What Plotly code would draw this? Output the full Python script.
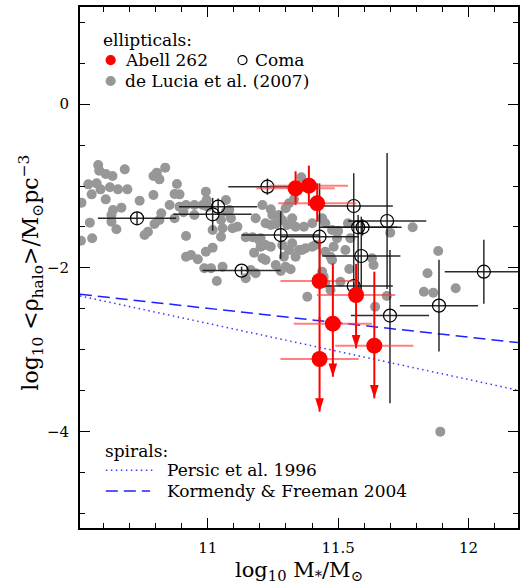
import plotly.graph_objects as go

# ---------------- data ----------------
delucia_logm = [10.580,10.584,10.609,10.635,10.682,10.792,10.805,10.815,10.837,11.359,
10.542,10.574,10.589,10.625,10.656,10.692,10.882,10.993,10.873,10.892,
10.792,10.555,10.516,10.609,10.739,10.669,10.637,10.854,10.892,10.917,
10.949,10.907,10.949,10.996,11.000,11.070,11.083,11.210,11.242,11.273,
11.299,11.312,11.331,10.822,10.631,10.548,10.631,10.815,10.796,10.771,
10.758,10.650,10.557,10.514,10.917,10.873,11.051,11.057,11.089,11.095,
11.114,11.146,11.172,11.184,11.203,11.222,11.242,11.261,11.286,11.305,
11.324,11.337,11.369,11.401,11.451,11.477,11.500,11.538,11.700,11.786,
11.019,11.203,11.222,11.242,11.286,11.324,11.350,11.375,11.401,11.413,
10.917,10.936,10.962,10.993,11.019,11.178,11.210,11.222,11.261,11.292,
11.451,11.483,11.528,11.477,11.543,11.630,11.636,10.987,11.013,11.057,
11.184,11.280,11.318,11.439,11.035,11.146,11.884,11.843,11.382,11.471,
11.445,11.509,11.642,11.687,11.829,11.865,11.951,11.892,11.496,11.547,
11.439,11.362,11.471,11.451,11.248,11.051,11.070,10.981,11.197,11.312,
11.337,11.299,11.165]
delucia_logrho = [-0.744,-0.813,-0.854,-0.878,-0.797,-0.878,-0.837,-0.919,-0.776,-0.894,
-0.980,-0.968,-1.041,-1.016,-1.041,-1.041,-0.976,-1.069,-1.098,-1.102,
-1.110,-1.102,-1.203,-1.163,-1.179,-1.264,-1.293,-1.232,-1.252,-1.232,
-1.232,-1.321,-1.354,-1.171,-1.252,-1.171,-1.293,-1.232,-1.285,-1.354,
-1.272,-1.211,-1.163,-1.333,-1.354,-1.447,-1.435,-1.415,-1.463,-1.557,
-1.598,-1.528,-1.638,-1.667,-1.610,-1.394,-1.415,-1.516,-1.394,-1.516,
-1.496,-1.626,-1.626,-1.394,-1.638,-1.455,-1.476,-1.463,-1.415,-1.476,
-1.394,-1.496,-1.496,-1.455,-1.455,-1.537,-1.549,-1.455,-1.569,-1.504,
-1.537,-1.740,-1.720,-1.740,-1.720,-1.699,-1.781,-1.760,-1.740,-1.720,
-1.862,-1.841,-1.894,-1.801,-1.752,-1.813,-1.882,-1.902,-1.963,-1.862,
-1.801,-1.740,-1.781,-1.902,-2.012,-1.882,-1.963,-2.004,-2.004,-1.984,
-2.065,-2.037,-2.016,-2.045,-2.159,-2.126,-1.793,-2.065,-2.350,-2.268,
-2.106,-2.167,-2.472,-2.341,-2.289,-2.301,-2.248,-3.996,-1.638,-1.638,
-1.394,-1.781,-1.862,-2.187,-1.354,-1.618,-1.313,-1.232,-1.659,-1.781,
-1.862,-1.984,-2.024]

coma_logm = [10.729, 11.040, 11.019, 11.229, 11.280, 11.130, 11.429, 11.560,
             11.577, 11.594, 11.688, 11.699, 11.589, 11.560, 11.887, 12.059]
coma_logrho = [-1.394, -1.252, -1.345, -1.008, -1.598, -2.032, -1.618, -1.244,
               -1.504, -1.504, -1.427, -2.580, -1.854, -2.220, -2.459, -2.045]
coma_err_up = [0.08, 0.10, 0.20, 0.10, 0.29, 0.05, 0.65, 0.40,
               0.15, 0.10, 0.83, 0.80, 0.48, 0.05, 0.56, 0.39]
coma_err_dn = [0.08, 0.10, 0.20, 0.10, 0.29, 0.05, 0.65, 0.98,
               0.74, 0.10, 0.83, 1.07, 0.41, 0.05, 0.56, 0.39]
coma_xerr = [0.15] * 16

abell_logm = [11.337, 11.388, 11.420, 11.429, 11.569, 11.429, 11.480, 11.639]
abell_logrho = [-1.028, -0.996, -1.211, -2.159, -2.329, -3.110, -2.679, -2.947]
abell_hi = [-0.82, -0.752, -0.967, -1.659, -1.95, -2.60, -1.943, -2.045]
abell_lo = [-1.232, -1.24, -1.435, -2.66, -2.98, -3.752, -3.326, -3.59]
abell_upper_limit = [False, False, False, False, True, True, True, True]
abell_xerr = [0.15] * 8

persic_logm = [10.51, 12.19]
persic_logrho = [-2.34, -3.49]
kf_logm = [10.51, 12.19]
kf_logrho = [-2.32, -2.91]

# ---------------- figure ----------------
FONT = "DejaVu Serif"
fig = go.Figure()

fig.add_trace(go.Scatter(
    x=delucia_logm, y=delucia_logrho, mode="markers",
    marker=dict(size=10, color="#979797", line=dict(width=0)),
    hoverinfo="skip"))

fig.add_trace(go.Scatter(
    x=persic_logm, y=persic_logrho, mode="lines",
    line=dict(color="#3a3aff", width=1.5, dash="1.5px,3.5px")))
fig.add_trace(go.Scatter(
    x=kf_logm, y=kf_logrho, mode="lines",
    line=dict(color="#2020ff", width=1.5, dash="12px,6px")))

fig.add_trace(go.Scatter(
    x=coma_logm, y=coma_logrho, mode="markers",
    marker=dict(symbol="circle-open", size=13, color="black", line=dict(width=1.2)),
    error_x=dict(type="data", array=coma_xerr, color="rgba(20,20,20,0.9)", thickness=1.5, width=0),
    error_y=dict(type="data", array=coma_err_up, arrayminus=coma_err_dn,
                 color="rgba(20,20,20,0.9)", thickness=1.5, width=0)))

err_up = [h - y for h, y in zip(abell_hi, abell_logrho)]
err_dn = [y - l for y, l in zip(abell_logrho, abell_lo)]
fig.add_trace(go.Scatter(
    x=abell_logm, y=abell_logrho, mode="markers",
    marker=dict(size=16, color="#ff0000", line=dict(width=0)),
    error_x=dict(type="data", array=abell_xerr, color="rgba(255,60,60,0.65)", thickness=2, width=0),
    error_y=dict(type="data", array=err_up, arrayminus=err_dn, color="#ff0000",
                 thickness=2, width=0)))

ul_x = [x for x, f in zip(abell_logm, abell_upper_limit) if f]
ul_y = [y for y, f in zip(abell_lo, abell_upper_limit) if f]
fig.add_trace(go.Scatter(
    x=ul_x, y=ul_y, mode="markers",
    marker=dict(symbol="arrow", angle=180, size=14, color="#ff0000", line=dict(width=0))))

# ---------------- legend (drawn inside plot) ----------------
def ptxt(xp, yp, text, size=17):
    fig.add_annotation(x=xp, y=yp, xref="paper", yref="paper", text=text,
                       showarrow=False, xanchor="left", yanchor="middle",
                       font=dict(family=FONT, size=size, color="black"))

def pdot(xp, yp, fill, line_color, d=9):
    r = d / 2
    fig.add_shape(type="circle", xref="paper", yref="paper",
                  xsizemode="pixel", ysizemode="pixel", xanchor=xp, yanchor=yp,
                  x0=-r, x1=r, y0=-r, y1=r, fillcolor=fill,
                  line=dict(color=line_color, width=1.2))

ptxt(0.048, 0.937, "ellipticals:")
pdot(0.070, 0.898, "#ff0000", "#ff0000")
ptxt(0.098, 0.898, "Abell 262")
pdot(0.371, 0.898, "rgba(0,0,0,0)", "black")
ptxt(0.396, 0.898, "Coma")
pdot(0.070, 0.858, "#979797", "#979797")
ptxt(0.098, 0.858, "de Lucia et al. (2007)")

ptxt(0.052, 0.148, "spirals:")
fig.add_shape(type="line", xref="paper", yref="paper", x0=0.059, x1=0.170, y0=0.111, y1=0.111,
              line=dict(color="#3a3aff", width=1.5, dash="1.5px,3.5px"))
ptxt(0.195, 0.111, "Persic et al. 1996")
fig.add_shape(type="line", xref="paper", yref="paper", x0=0.059, x1=0.160, y0=0.071, y1=0.071,
              line=dict(color="#2020ff", width=1.5, dash="12px,6px"))
ptxt(0.195, 0.071, "Kormendy &amp; Freeman 2004")

# axis titles
fig.add_annotation(x=0.5, y=-0.053, xref="paper", yref="paper",
                   text="log<sub>10</sub> M<sub>*</sub>/M<sub>⊙</sub>",
                   showarrow=False, xanchor="center", yanchor="top",
                   font=dict(family=FONT, size=21, color="black"))
fig.add_annotation(x=-0.112, y=0.49, xref="paper", yref="paper",
                   text="log<sub>10</sub> &lt;ρ<sub>halo</sub>&gt;/M<sub>⊙</sub>pc<sup>−3</sup>",
                   showarrow=False, xanchor="center", yanchor="middle", textangle=-90,
                   font=dict(family=FONT, size=22, color="black"))

axis_common = dict(showline=True, linewidth=2, linecolor="black", mirror="ticks",
                   ticks="inside", ticklen=10, tickwidth=1.3, tickcolor="black",
                   showgrid=False, zeroline=False,
                   tickfont=dict(family=FONT, size=15, color="black"))

fig.update_xaxes(range=[10.5103, 12.19], tick0=11, dtick=0.5, ticklabelstandoff=5,
                 minor=dict(dtick=0.1, ticklen=5, ticks="inside", tickcolor="black", tickwidth=1.2),
                 **axis_common)
fig.update_yaxes(range=[-5.171, 1.183], tick0=0, dtick=2, ticklabelstandoff=6,
                 minor=dict(dtick=0.5, ticklen=5, ticks="inside", tickcolor="black", tickwidth=1.2),
                 **axis_common)

fig.update_layout(width=522, height=583, showlegend=False,
                  margin=dict(l=80, r=2, t=7, b=55),
                  paper_bgcolor="white", plot_bgcolor="white",
                  font=dict(family=FONT, color="black"))

fig.write_html("out.html")
